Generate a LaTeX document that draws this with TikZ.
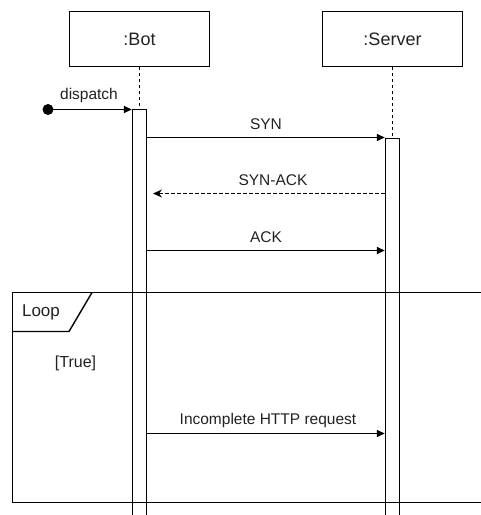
\documentclass[tikz,border=0pt]{standalone}
\usepackage{fontspec}
\setmainfont{Liberation Sans}
\usetikzlibrary{arrows.meta}
\definecolor{txt}{HTML}{222222}
\tikzset{
  lw/.style={line width=1.4pt},
  lifebox/.style={draw, lw, minimum width=140, minimum height=55, inner sep=0, text=txt, font=\fontsize{18}{20}\selectfont},
  actbar/.style={draw, lw, fill=white, minimum width=14, minimum height=430, inner sep=0, anchor=north},
  lifeline/.style={lw, dash pattern=on 3pt off 3pt},
  msg/.style={lw, -{Triangle[length=8,width=7]}},
  reply/.style={lw, dash pattern=on 3.5pt off 2.5pt, -{Stealth[length=9,width=8,inset=3]}},
  lbl/.style={text=txt, font=\fontsize{15.5}{17}\selectfont, inner sep=0},
  frame/.style={lw},
}
\begin{document}
\begin{tikzpicture}[x=1pt,y=-1pt]
  \clip (0,0) rectangle (481,515);
  \fill[white] (0,0) rectangle (481,515);

  % participants
  \node[lifebox] (bot) at (139.5,39) {:Bot};
  \node[lifebox] (srv) at (392.5,39) {:Server};

  % row heights of the messages
  \coordinate (r0) at (0,109.5);
  \coordinate (r1) at (0,137.5);
  \coordinate (r2) at (0,193.5);
  \coordinate (r3) at (0,250.5);
  \coordinate (r4) at (0,433.5);

  % activation bars
  \node[actbar] (botbar) at (139.5,108.5) {};
  \node[actbar] (srvbar) at (392.5,137.5) {};

  % lifelines
  \draw[lifeline] (bot.south) -- (botbar.north);
  \draw[lifeline] (srv.south) -- (srvbar.north);

  % loop combined fragment, drawn over the bars
  \draw[frame] (12.5,502.5) -- (12.5,292.5) -- (490,292.5) -- (490,502.5) -- cycle;
  \draw[frame] (12.5,331.5) -- (69,331.5) -- (92,292.5);
  \node[text=txt, font=\fontsize{17}{19}\selectfont, inner sep=0] (looplbl) at (41,312) {Loop};
  \node[text=txt, font=\fontsize{16}{18}\selectfont, inner sep=0] (guard) at (75.5,363) {[True]};

  % found message
  \fill (48,109.5) circle (5.5) coordinate (start);
  \draw[msg] (start) -- (botbar.west |- r0);
  \node[lbl] (dispatch) at (89,95) {dispatch};

  % handshake
  \draw[msg] (botbar.east |- r1) -- (srvbar.west |- r1);
  \node[lbl] (synl) at (266,124) {SYN};

  \coordinate (ackend) at (153,193.5);
  \draw[reply] (srvbar.west |- r2) -- (ackend);
  \node[lbl] (synackl) at (273,180) {SYN-ACK};

  \draw[msg] (botbar.east |- r3) -- (srvbar.west |- r3);
  \node[lbl] (ackl) at (266,237) {ACK};

  % request inside the loop
  \draw[msg] (botbar.east |- r4) -- (srvbar.west |- r4);
  \node[lbl] (httpl) at (268,420) {Incomplete HTTP request};
\end{tikzpicture}
\end{document}
